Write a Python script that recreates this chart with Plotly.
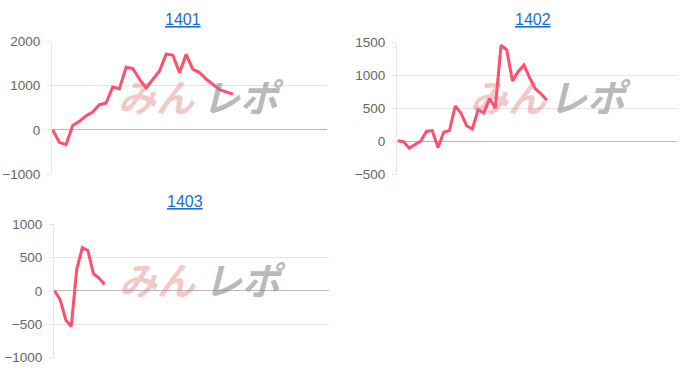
import plotly.graph_objects as go

titles = ["1401", "1402", "1403"]
y1401 = [0, -280, -333, 100, 196, 320, 406, 572, 609, 972, 935, 1420, 1391, 1152,
         950, 1152, 1333, 1717, 1696, 1298, 1710, 1370, 1298, 1152, 1028, 913, 863, 811]
y1402 = [7, -7, -105, -47, 3, 153, 163, -95, 138, 163, 536, 430, 236, 186, 478, 430,
         648, 502, 1459, 1391, 914, 1060, 1158, 964, 794, 721, 623]
y1403 = [0, -130, -432, -537, 327, 647, 604, 255, 191, 96]
series = [y1401, y1402, y1403]

yranges = [[-1000, 2000], [-500, 1500], [-1000, 1000]]
ydticks = [1000, 500, 500]
xranges = [[-0.1, 41.1], [-0.15, 48.7], [-0.1, 49.4]]

W, H = 700, 380
# plot areas in pixels: (left, right, top, bottom)
boxes = [(52, 327, 36, 174), (397, 677, 37, 174), (54, 329, 226, 365)]
title_pos = [(183, 13), (533, 13), (185, 203)]
wm_pos = [((156, 243), 92), ((508, 590), 92), ((157, 245), 283)]

LINE = "#ff4f6e"
fig = go.Figure()
for i, ys in enumerate(series):
    s = "" if i == 0 else str(i + 1)
    l, r, t, b = boxes[i]
    # watermark logo (drawn first)
    (px, gx), wy = wm_pos[i]
    fig.add_annotation(xref="paper", yref="paper", x=px / W, y=1 - wy / H,
                       xanchor="center", yanchor="middle",
                       text="<b><i>みん</i></b>", showarrow=False,
                       font=dict(family="Noto Sans CJK JP", size=38,
                                 color="rgba(225,110,110,0.40)"))
    fig.add_annotation(xref="paper", yref="paper", x=gx / W, y=1 - wy / H,
                       xanchor="center", yanchor="middle",
                       text="<b><i>レポ</i></b>", showarrow=False,
                       font=dict(family="Noto Sans CJK JP", size=38,
                                 color="rgba(140,140,140,0.6)"))
    fig.add_trace(go.Scatter(x=list(range(len(ys))), y=ys, mode="lines",
                             line=dict(color=LINE, width=3),
                             xaxis="x" + s, yaxis="y" + s, hoverinfo="skip",
                             showlegend=False))
    fig.layout["xaxis" + s] = dict(domain=[l / W, r / W], range=xranges[i],
                                   showgrid=False, zeroline=False, showticklabels=False,
                                   showline=False, anchor="y" + s, fixedrange=True)
    fig.layout["yaxis" + s] = dict(domain=[1 - b / H, 1 - t / H], range=yranges[i],
                                   dtick=ydticks[i], tick0=0,
                                   showgrid=True, gridcolor="#e6e6e6", gridwidth=1,
                                   zeroline=True, zerolinecolor="#b8b8b8", zerolinewidth=1,
                                   showline=True, linecolor="#e6e6e6", linewidth=1,
                                   ticks="outside", ticklen=4, tickcolor="#e6e6e6",
                                   ticklabelstandoff=4,
                                   tickfont=dict(family="Liberation Sans, Arial", size=13.5,
                                                 color="#666"),
                                   anchor="x" + s, fixedrange=True)
    tx, ty = title_pos[i]
    fig.add_annotation(xref="paper", yref="paper", x=tx / W, y=1 - ty / H,
                       xanchor="center", yanchor="middle",
                       text="<u>" + titles[i] + "</u>", showarrow=False,
                       font=dict(family="Liberation Sans, Arial", size=16, color="#1a6fd1"))

fig.update_layout(width=W, height=H, margin=dict(l=0, r=0, t=0, b=0),
                  paper_bgcolor="white", plot_bgcolor="white", showlegend=False)
fig.write_html("out.html")
